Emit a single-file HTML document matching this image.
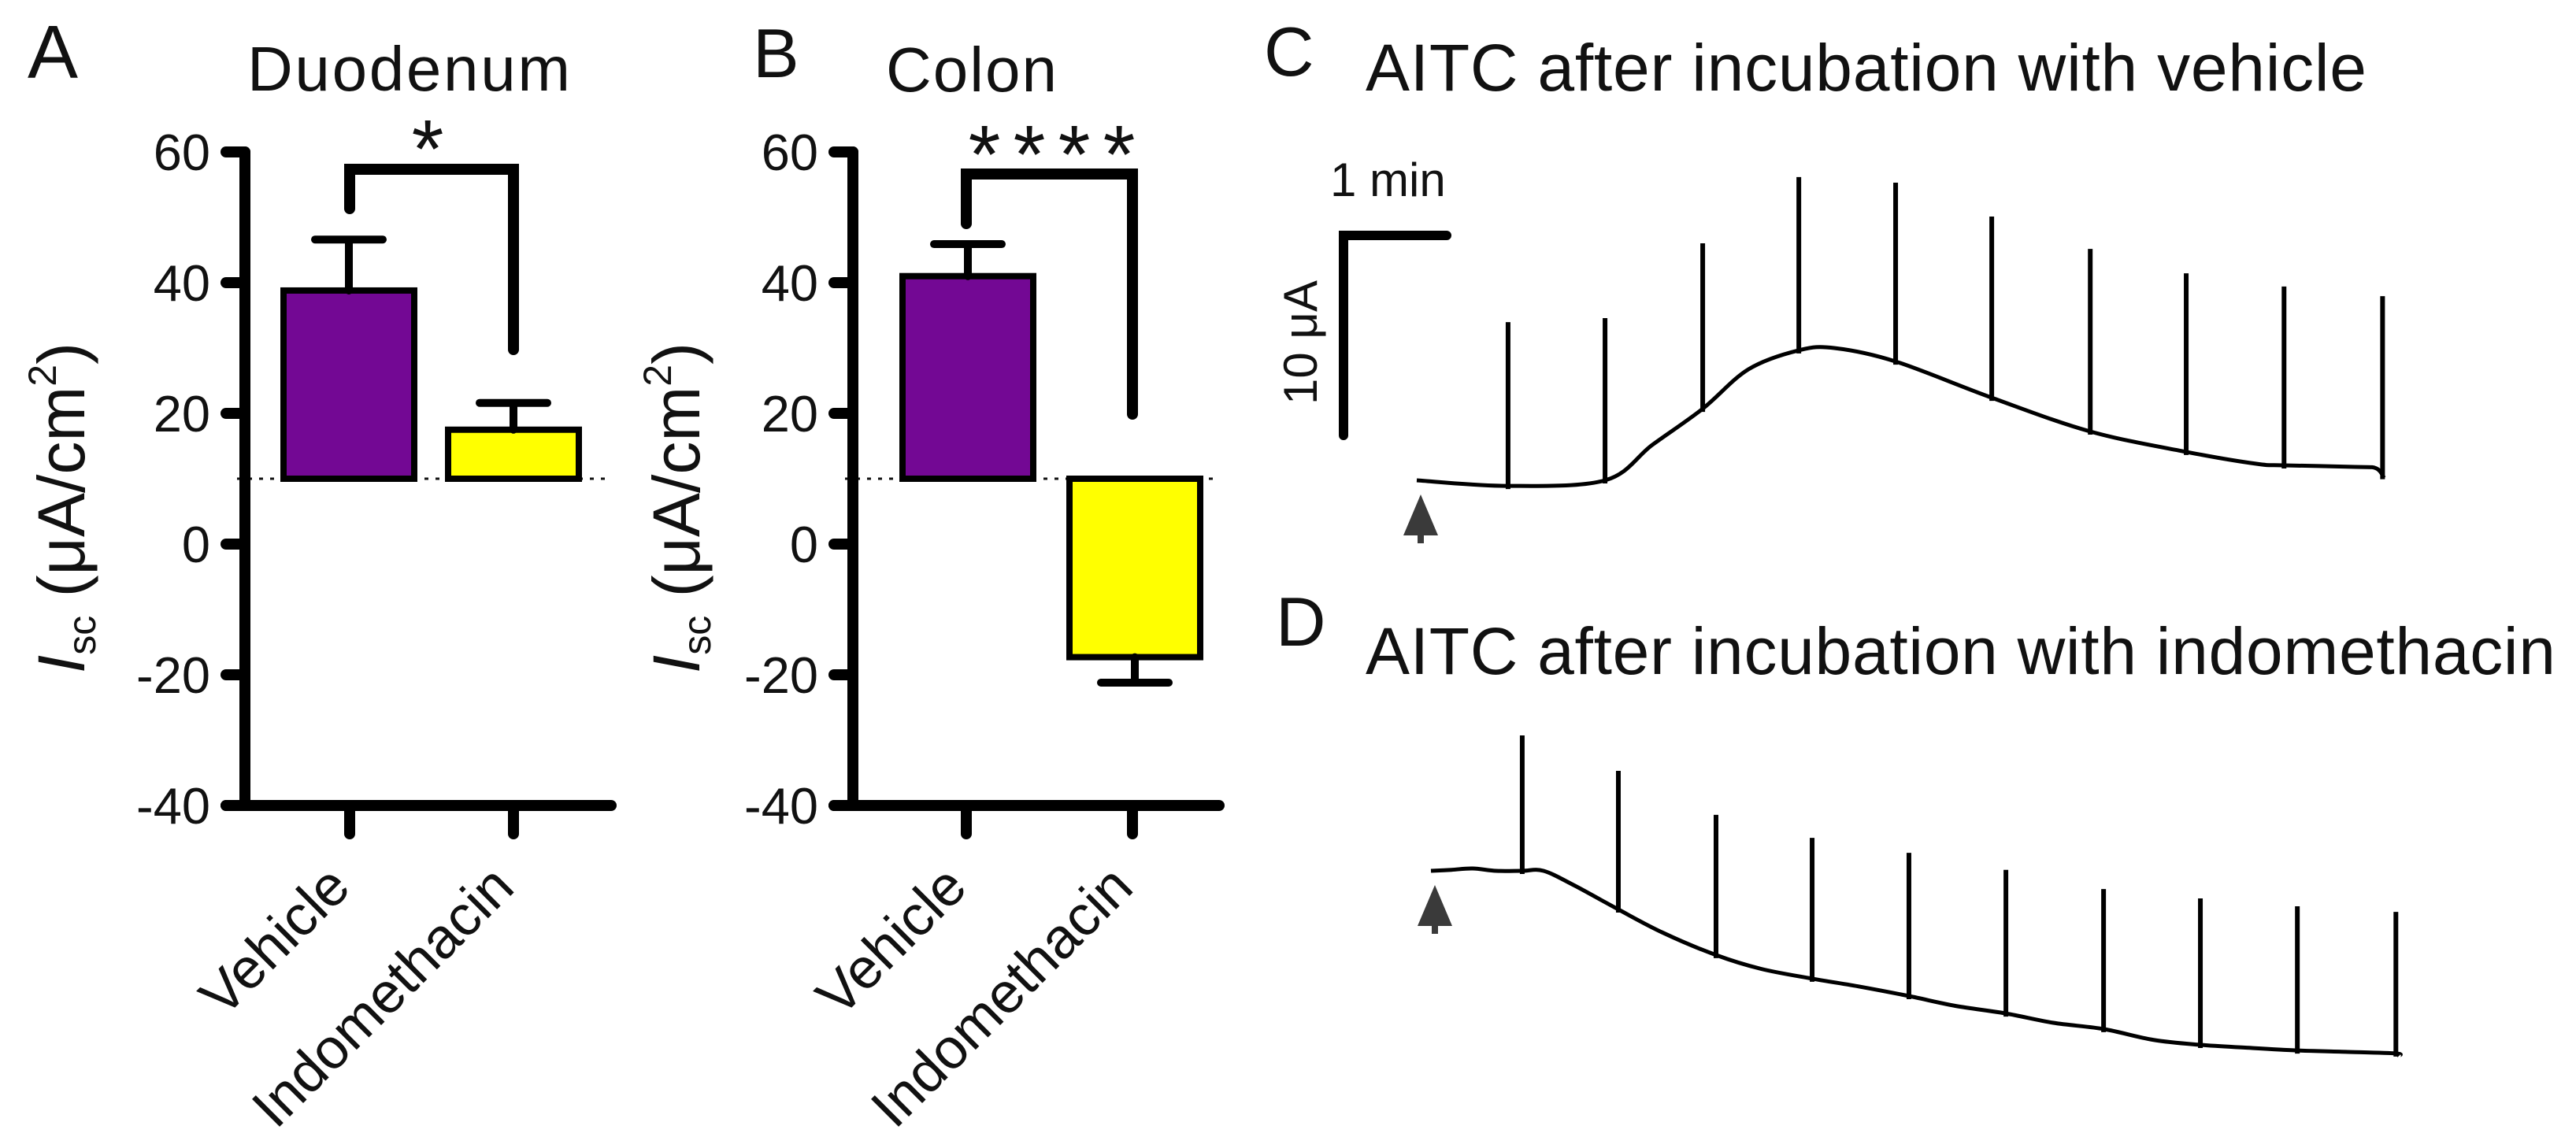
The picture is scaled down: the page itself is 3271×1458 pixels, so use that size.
<!DOCTYPE html>
<html><head><meta charset="utf-8">
<style>
html,body{margin:0;padding:0;background:#fff;}
svg{display:block;}
text{font-family:"Liberation Sans",Arial,sans-serif;fill:#111;}
</style></head>
<body>
<svg id="fig" width="3271" height="1458" viewBox="0 0 3271 1458" xmlns="http://www.w3.org/2000/svg">
  <text x="35" y="99" font-size="96">A</text>
  <text x="314" y="115" font-size="80" textLength="410">Duodenum</text>
  <text x="956" y="98" font-size="88">B</text>
  <text x="1125" y="116" font-size="80" textLength="217">Colon</text>
  <text x="1605" y="96" font-size="88">C</text>
  <text x="1734" y="115" font-size="84" textLength="1271">AITC after incubation with vehicle</text>
  <text x="1620" y="820" font-size="88">D</text>
  <text x="1734" y="856" font-size="84" textLength="1511">AITC after incubation with indomethacin</text>
  <g id="barA"></g>
  <g id="barB"></g>
  <g id="traceC"></g>
  <g id="traceD"></g>
</svg>
<script>
// ---- bar chart data ----
const categories = ["Vehicle", "Indomethacin"];
const yTicks = [60, 40, 20, 0, -20, -40];
const baselineValue = 10;
const duodenumMeans = [38.8, 17.5];
const duodenumErr = [46.6, 21.6];
const colonMeans = [41, -17.3];
const colonErr = [45.9, -21.2];
const duodenumStars = "*";
const colonStars = ["*", "*", "*", "*"];

// ---- trace data (time in s, current in µA relative to start) ----
const vehicleTime = [0, 53.1, 109.5, 137, 166.3, 192.9, 222.2, 243.2, 278.5, 334.4, 391.7, 447.5, 487.9, 504.4, 546, 558, 562.6];
const vehicleCurrent = [0, -0.28, 0, 1.77, 3.58, 5.55, 6.5, 6.61, 5.94, 4.13, 2.44, 1.42, 0.83, 0.75, 0.67, 0.6, 0.12];
const vehicleSpikeTime = [53.1, 109.5, 166.3, 222.2, 278.5, 334.4, 391.7, 447.5, 504.4, 561.7];
const vehicleSpikePeak = [7.91, 8.11, 11.85, 15.16, 14.88, 13.19, 11.57, 10.35, 9.69, 9.21];
const indoTime = [0, 12, 24.3, 38, 53.1, 65.5, 83.8, 109, 135, 165.8, 192, 221.7, 250, 278, 305, 334.4, 362, 391.2, 420, 447.5, 476, 503.9, 532, 561.2, 563];
const indoCurrent = [0, 0.05, 0.12, 0.0, 0, 0, -0.75, -1.93, -3.1, -4.21, -4.9, -5.39, -5.8, -6.26, -6.75, -7.13, -7.6, -7.91, -8.45, -8.7, -8.85, -8.98, -9.05, -9.13, -9.25];
const indoSpikeTime = [53.1, 109, 165.8, 221.7, 278, 334.4, 391.2, 447.5, 503.9, 561.2];
const indoSpikePeak = [6.77, 5.0, 2.8, 1.65, 0.9, 0.05, -0.91, -1.38, -1.77, -2.05];

const NS = "http://www.w3.org/2000/svg";
function mk(tag, attrs, parent) {
  const e = document.createElementNS(NS, tag);
  for (const k in attrs) e.setAttribute(k, attrs[k]);
  parent.appendChild(e);
  return e;
}

function barChart(g, ax, tickXs, barLefts, barW, means, errs, fills, bracket, stars, starXs, starY, ylabelX) {
  const yv = v => 691 - v * 8.3;
  const dl = mk("line", {x1: ax - 10, x2: ax + 466, y1: yv(baselineValue), y2: yv(baselineValue), stroke: "#111", "stroke-width": 3, "stroke-dasharray": "5 9"}, g);
  
  
  means.forEach((m, i) => {
    const x = barLefts[i];
    const y0 = yv(baselineValue), y1 = yv(m);
    const r = mk("rect", {x: x, y: Math.min(y0, y1), width: barW, height: Math.abs(y1 - y0), fill: fills[i], stroke: "#000", "stroke-width": 8}, g);
    
    
    const cx = x + barW / 2;
    const eb = mk("path", {d: `M${cx},${y1} V${yv(errs[i])} M${cx - 43},${yv(errs[i])} H${cx + 43}`, stroke: "#000", "stroke-width": 10, fill: "none", "stroke-linecap": "round"}, g);
    
    
  });
  const axis = mk("path", {d: `M${ax},${yv(60)} V${yv(-40)} M${ax - 24},${yv(-40)} H${ax + 465}`, stroke: "#000", "stroke-width": 14, fill: "none", "stroke-linecap": "round"}, g);
  
  
  yTicks.forEach(t => {
    const tk = mk("line", {x1: ax - 24, x2: ax, y1: yv(t), y2: yv(t), stroke: "#000", "stroke-width": 14, "stroke-linecap": "round"}, g);
    
    
    const tl = mk("text", {x: ax - 44, y: yv(t) + 23, "font-size": 65, "text-anchor": "end"}, g);
    tl.textContent = String(t);
    
    
  });
  tickXs.forEach((tx, i) => {
    const tk = mk("line", {x1: tx, x2: tx, y1: yv(-40), y2: yv(-40) + 36, stroke: "#000", "stroke-width": 14, "stroke-linecap": "round"}, g);
    
    
    const lb = mk("text", {transform: `translate(${tx + 4},${1130}) rotate(-45)`, "font-size": 72, "text-anchor": "end"}, g);
    lb.textContent = categories[i];
    
    
  });
  const br = mk("path", {d: `M${tickXs[0]},${bracket[1]} V${bracket[0]} H${tickXs[1]} V${bracket[2]}`, stroke: "#000", "stroke-width": 14, fill: "none", "stroke-linecap": "round", "stroke-linejoin": "miter"}, g);
  
  
  [].concat(stars).forEach((s, i) => {
    const st = mk("text", {x: starXs[i], y: starY, "font-size": 105, "text-anchor": "middle"}, g);
    st.textContent = s;
    
    
  });
  const yl = mk("text", {transform: `translate(${ylabelX},645) rotate(-90)`, "font-size": 84, "text-anchor": "middle"}, g);
  
  
  yl.innerHTML = '<tspan font-style="italic">I</tspan><tspan font-size="50" dy="14">sc</tspan><tspan dy="-14"> (μA/cm</tspan><tspan font-size="50" dy="-36">2</tspan><tspan dy="36">)</tspan>';
}

barChart(document.getElementById("barA"), 311, [444, 652], [360, 569], 166,
  duodenumMeans, duodenumErr, ["#730894", "#ffff00"], [215, 265, 444], duodenumStars, [543], 225, 107);
barChart(document.getElementById("barB"), 1083, [1227, 1438], [1146, 1358], 166,
  colonMeans, colonErr, ["#730894", "#ffff00"], [221, 284, 526], colonStars, [1250, 1307, 1364, 1421], 232, 888);

// ---- traces ----
const pxPerSec = 131 / 60, pxPerUA = 254 / 10;
function smooth(pts) {
  let d = `M${pts[0][0]},${pts[0][1]}`;
  for (let i = 0; i < pts.length - 1; i++) {
    const p0 = pts[Math.max(0, i - 1)], p1 = pts[i], p2 = pts[i + 1], p3 = pts[Math.min(pts.length - 1, i + 2)];
    const c1 = [p1[0] + (p2[0] - p0[0]) / 6, p1[1] + (p2[1] - p0[1]) / 6];
    const c2 = [p2[0] - (p3[0] - p1[0]) / 6, p2[1] - (p3[1] - p1[1]) / 6];
    d += ` C${c1[0].toFixed(1)},${c1[1].toFixed(1)} ${c2[0].toFixed(1)},${c2[1].toFixed(1)} ${p2[0].toFixed(1)},${p2[1].toFixed(1)}`;
  }
  return d;
}
function interp(ts, vs, t) {
  for (let i = 0; i < ts.length - 1; i++) if (t >= ts[i] && t <= ts[i + 1]) return vs[i] + (vs[i + 1] - vs[i]) * (t - ts[i]) / (ts[i + 1] - ts[i]);
  return vs[vs.length - 1];
}
function trace(g, x0, y0, times, cur, spT, spP) {
  const xs = t => x0 + t * pxPerSec, ys = v => y0 - v * pxPerUA;
  const pts = times.map((t, i) => [xs(t), ys(cur[i])]);
  const ln = mk("path", {d: smooth(pts), stroke: "#000", "stroke-width": 5, fill: "none", "stroke-linejoin": "round"}, g);
  
  
  spT.forEach((t, i) => {
    const base = interp(times, cur, t);
    const sp = mk("line", {x1: xs(t), x2: xs(t), y1: ys(base) + 4, y2: ys(spP[i]), stroke: "#000", "stroke-width": 6}, g);
    
    
  });
  const ar = mk("path", {d: `M${x0 + 5},${y0 + 18} L${x0 + 27},${y0 + 70} L${x0 - 17},${y0 + 70} Z M${x0 + 1},${y0 + 60} h8 v20 h-8 Z`, fill: "#3a3a3a"}, g);
  
  
}
trace(document.getElementById("traceC"), 1799, 610, vehicleTime, vehicleCurrent, vehicleSpikeTime, vehicleSpikePeak);
trace(document.getElementById("traceD"), 1817, 1106, indoTime, indoCurrent, indoSpikeTime, indoSpikePeak);

const gC = document.getElementById("traceC");
const sb = mk("path", {d: `M${1706 + 60 * pxPerSec},299 H1706 V${299 + 10 * pxPerUA}`, stroke: "#000", "stroke-width": 12, fill: "none", "stroke-linecap": "round"}, gC);


const sbt = mk("text", {x: 1689, y: 249, "font-size": 60}, gC);
sbt.textContent = "1 min";


const sbu = mk("text", {transform: "translate(1672,435) rotate(-90)", "font-size": 60, "text-anchor": "middle"}, gC);
sbu.textContent = "10 μA";


</script>
</body></html>
